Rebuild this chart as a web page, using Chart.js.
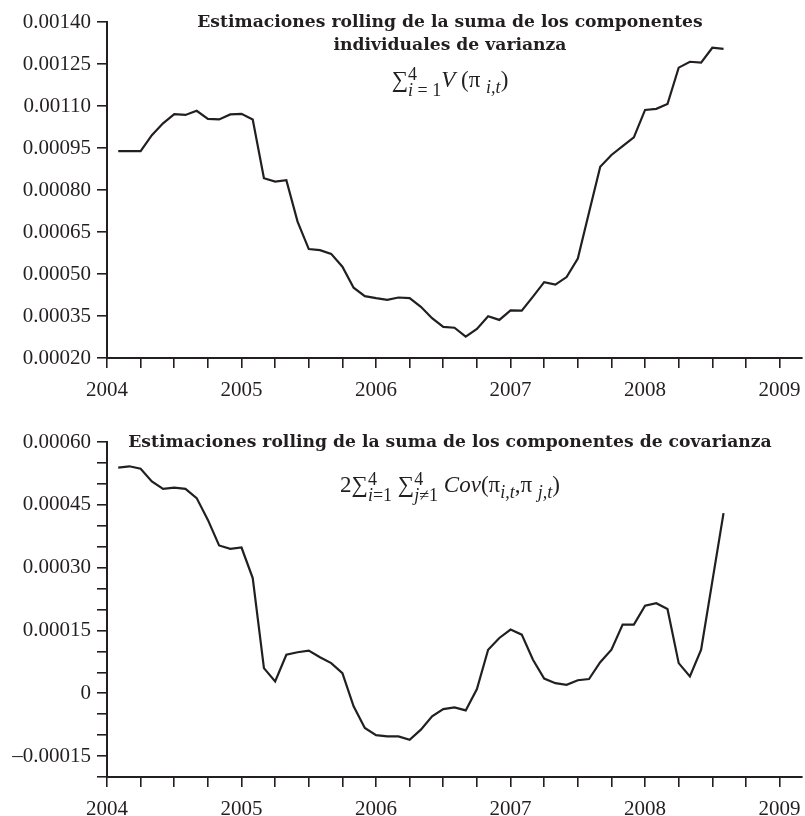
<!DOCTYPE html>
<html lang="es">
<head>
<meta charset="UTF-8" />
<title>Estimaciones rolling</title>
<script src="https://cdn.jsdelivr.net/npm/chart.js"></script>
<style>
  body { margin: 0; background: #fff; }
  #wrap { position: relative; width: 805px; height: 816px; overflow: hidden;
          font-family: "Liberation Serif", serif; color: #231f20; }
  canvas { position: absolute; left: 0; }
  #topChart { top: 0; }
  #bottomChart { top: 400px; }
  .title { position: absolute; left: 100px; width: 700px; text-align: center;
           font-family: "DejaVu Serif", serif; font-weight: bold;
           font-size: 17.2px; line-height: 23px; white-space: nowrap; }
  .formula { position: absolute; left: 100px; width: 700px; text-align: center;
             font-size: 23px; line-height: 26px; white-space: nowrap; }
  .ss { display: inline-block; vertical-align: middle; font-size: 18px;
        line-height: 16px; text-align: left; }
  .ss span { display: block; }
  .lo { font-size: 18px; position: relative; top: 6px; }
</style>
</head>
<body>
<div id="wrap">
  <canvas id="topChart" width="805" height="400"></canvas>
  <canvas id="bottomChart" width="805" height="416"></canvas>

  <div class="title" style="top: 10px">Estimaciones rolling de la suma de los componentes<br>individuales de varianza</div>
  <div class="formula" style="top: 66px">∑<span class="ss"><span>4</span><span><i>i</i> = 1</span></span><i>V</i> (π <span class="lo"><i>i,t</i></span>)</div>

  <div class="title" style="top: 430px">Estimaciones rolling de la suma de los componentes de covarianza</div>
  <div class="formula" style="top: 471px">2∑<span class="ss"><span>4</span><span><i>i</i>=1</span></span> ∑<span class="ss"><span>4</span><span><i>j</i>≠1</span></span> <i>Cov</i>(π<span class="lo"><i>i,t</i></span>,π <span class="lo"><i>j,t</i></span>)</div>
</div>

<script>
// monthly observations
const months = [
  "2004-02", "2004-03", "2004-04", "2004-05", "2004-06", "2004-07", "2004-08", "2004-09", "2004-10", "2004-11", "2004-12",
  "2005-01", "2005-02", "2005-03", "2005-04", "2005-05", "2005-06", "2005-07", "2005-08", "2005-09", "2005-10", "2005-11", "2005-12",
  "2006-01", "2006-02", "2006-03", "2006-04", "2006-05", "2006-06", "2006-07", "2006-08", "2006-09", "2006-10", "2006-11", "2006-12",
  "2007-01", "2007-02", "2007-03", "2007-04", "2007-05", "2007-06", "2007-07", "2007-08", "2007-09", "2007-10", "2007-11", "2007-12",
  "2008-01", "2008-02", "2008-03", "2008-04", "2008-05", "2008-06", "2008-07", "2008-08"
];

// sum of individual variance components
const varSum = [
  0.000939, 0.000939, 0.000939, 0.000996, 0.001038, 0.001071, 0.001068, 0.001083, 0.001054, 0.001052, 0.00107,
  0.001072, 0.001052, 0.000842, 0.00083, 0.000835, 0.000687, 0.000589, 0.000585, 0.000572, 0.000526, 0.000451, 0.000421,
  0.000414, 0.000408, 0.000416, 0.000414, 0.000383, 0.000342, 0.000311, 0.000308, 0.000276, 0.000304, 0.000349, 0.000336,
  0.00037, 0.000369, 0.000419, 0.000471, 0.000462, 0.000489, 0.000555, 0.00072, 0.000883, 0.000925, 0.000957, 0.000988,
  0.001086, 0.00109, 0.001107, 0.001237, 0.001258, 0.001255, 0.001308, 0.001304
];

// sum of covariance components
const covSum = [
  0.000539, 0.000542, 0.000536, 0.000506, 0.000488, 0.000491, 0.000488, 0.000466, 0.000414, 0.000353, 0.000345,
  0.000348, 0.000275, 0.00006, 0.000028, 0.000092, 0.000098, 0.000102, 0.000086, 0.000072, 0.000048, -0.000031, -0.000083,
  -0.0001, -0.000103, -0.000103, -0.000111, -0.000087, -0.000055, -0.000038, -0.000034, -0.000041, 0.00001, 0.000104, 0.000132,
  0.000152, 0.00014, 0.00008, 0.000035, 0.000024, 0.00002, 0.000031, 0.000034, 0.000074, 0.000104, 0.000164, 0.000164,
  0.000209, 0.000215, 0.000201, 0.000072, 0.00004, 0.000104, 0.000267, 0.00043
];

const yearLabels = [2004, 2005, 2006, 2007, 2008, 2009];
const topTicks = [0.0002, 0.00035, 0.0005, 0.00065, 0.0008, 0.00095, 0.0011, 0.00125, 0.0014];
const bottomLabelTicks = [-0.00015, 0, 0.00015, 0.0003, 0.00045, 0.0006];
const bottomMinorTicks = [-0.0002, -0.0001, -0.00005, 0.00005, 0.0001, 0.0002, 0.00025, 0.00035, 0.0004, 0.0005, 0.00055];

const ink = "#231f20";
const fontFamily = "'Liberation Serif', serif";
const xMax = 2009 + 2 / 12;

const xs = months.map(m => {
  const [y, mo] = m.split("-").map(Number);
  return y + (mo - 1) / 12;
});

// quarterly tick marks, labels on the years only
const quarterTicks = [];
yearLabels.forEach(y => {
  [0, 0.25, 0.5, 0.75].forEach(q => {
    if (y + q <= xMax) quarterTicks.push(y + q);
  });
});

function makeChart(id, values, yMin, yMax, yTicks, yLabel, padTop, xHeight) {
  return new Chart(document.getElementById(id), {
    type: "line",
    data: {
      datasets: [{
        data: values.map((v, i) => ({ x: xs[i], y: v })),
        borderColor: ink,
        borderWidth: 2.2,
        pointRadius: 0,
        tension: 0,
        fill: false
      }]
    },
    options: {
      responsive: false,
      animation: false,
      layout: { padding: { top: padTop, right: 3, left: 0, bottom: 0 } },
      plugins: { legend: { display: false }, tooltip: { enabled: false } },
      scales: {
        x: {
          type: "linear",
          min: 2004,
          max: xMax,
          afterBuildTicks: s => { s.ticks = quarterTicks.map(v => ({ value: v })); },
          afterFit: s => {
            s.height = xHeight;
            s.paddingLeft = 0;
            s.paddingRight = 0;
          },
          grid: { drawOnChartArea: false, tickLength: 10, color: ink, lineWidth: 1.6 },
          border: { color: ink, width: 2 },
          ticks: {
            autoSkip: false,
            maxRotation: 0,
            padding: 10,
            color: ink,
            font: { family: fontFamily, size: 21 },
            callback: v => Math.abs(v - Math.round(v)) < 1e-6 ? String(Math.round(v)) : ""
          }
        },
        y: {
          min: yMin,
          max: yMax,
          afterBuildTicks: s => { s.ticks = yTicks.map(v => ({ value: v })); },
          afterFit: s => { s.width = 107; },
          grid: { drawOnChartArea: false, tickLength: 10, color: ink, lineWidth: 1.6 },
          border: { color: ink, width: 2 },
          ticks: {
            autoSkip: false,
            padding: 6,
            color: ink,
            font: { family: fontFamily, size: 21 },
            callback: yLabel
          }
        }
      }
    }
  });
}

makeChart("topChart", varSum, 0.0002, 0.0014, topTicks, v => v.toFixed(5), 22, 42);

const bottomTicks = bottomLabelTicks.concat(bottomMinorTicks).sort((a, b) => a - b);
makeChart("bottomChart", covSum, -0.0002, 0.0006, bottomTicks, v => {
  if (!bottomLabelTicks.some(t => Math.abs(t - v) < 1e-9)) return "";
  if (Math.abs(v) < 1e-12) return "0";
  return v < 0 ? "–" + Math.abs(v).toFixed(5) : v.toFixed(5);
}, 42, 39);
</script>
</body>
</html>
